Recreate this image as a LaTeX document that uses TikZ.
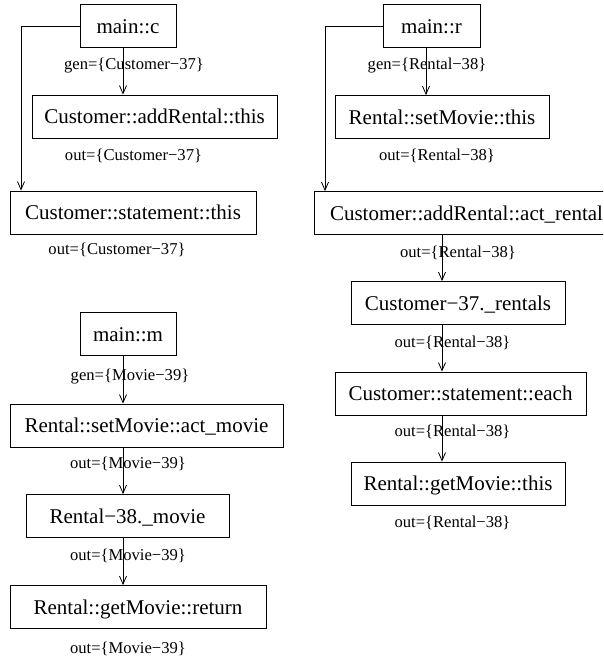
\documentclass[tikz,border=0pt]{standalone}
\usepackage{fontspec}
\setmainfont{Liberation Serif}
\usetikzlibrary{arrows.meta}
\begin{document}
\begin{tikzpicture}[x=1pt,y=-1pt,
  box/.style={draw, line width=0.8pt, inner sep=0pt, minimum height=43pt, text height=14pt, text depth=0pt, font=\fontsize{21}{25}\selectfont},
  lbl/.style={anchor=base, inner sep=0pt, font=\fontsize{16.6}{20}\selectfont},
  arr/.style={draw, line width=0.8pt, -{Straight Barb[length=8pt,width=7pt]}}]
\useasboundingbox (0,0) rectangle (603,656);
\clip (0,0) rectangle (603,656);
% column coordinates
\coordinate (colL) at (123,0);
\coordinate (colR) at (426,0);
\coordinate (colR2) at (442,0);
\coordinate (sideL) at (21,0);
\coordinate (sideR) at (325,0);
% top left group
\node[box, minimum width=96pt] (mc) at (128,26) {main::c};
\node[box, minimum width=245pt] (car) at (154.5,116.5) {Customer::addRental::this};
\node[box, minimum width=246pt] (cst) at (133,212.5) {Customer::statement::this};
\node[lbl] (gc) at (134,69.5) {gen=\{Customer−37\}};
\node[lbl] (oc1) at (133.5,160.5) {out=\{Customer−37\}};
\node[lbl] (oc2) at (117,254.5) {out=\{Customer−37\}};
\draw[arr] (mc.south -| colL) -- (car.north -| colL);
\draw[arr] (mc.west) -| (cst.north -| sideL);
% right group
\node[box, minimum width=97pt] (mr) at (431.5,26) {main::r};
\node[box, minimum width=214pt] (rsm) at (442,117) {Rental::setMovie::this};
\node[box, minimum width=305pt] (cara) at (466.5,213) {Customer::addRental::act\_rental};
\node[box, minimum width=214pt] (crt) at (458,303) {Customer−37.\_rentals};
\node[box, minimum width=251pt] (cse) at (460.5,393.5) {Customer::statement::each};
\node[box, minimum width=214pt] (rgt) at (458,483.5) {Rental::getMovie::this};
\node[lbl] (gr) at (427,69.5) {gen=\{Rental−38\}};
\node[lbl] (or1) at (437,160.5) {out=\{Rental−38\}};
\node[lbl] (or2) at (458,257.5) {out=\{Rental−38\}};
\node[lbl] (or3) at (452.5,347.5) {out=\{Rental−38\}};
\node[lbl] (or4) at (452.5,436.5) {out=\{Rental−38\}};
\node[lbl] (or5) at (452.5,527.5) {out=\{Rental−38\}};
\draw[arr] (mr.south -| colR) -- (rsm.north -| colR);
\draw[arr] (mr.west) -| (cara.north -| sideR);
\draw[arr] (cara.south -| colR2) -- (crt.north -| colR2);
\draw[arr] (crt.south -| colR2) -- (cse.north -| colR2);
\draw[arr] (cse.south -| colR2) -- (rgt.north -| colR2);
% bottom left group
\node[box, minimum width=96pt] (mm) at (128,334) {main::m};
\node[box, minimum width=273pt] (rsa) at (146.5,425.5) {Rental::setMovie::act\_movie};
\node[box, minimum width=203pt] (rmv) at (127.5,516) {Rental−38.\_movie};
\node[box, minimum width=256pt] (rgr) at (138,607) {Rental::getMovie::return};
\node[lbl] (gm) at (130,380.5) {gen=\{Movie−39\}};
\node[lbl] (om1) at (128,468.5) {out=\{Movie−39\}};
\node[lbl] (om2) at (128,560.5) {out=\{Movie−39\}};
\node[lbl] (om3) at (128,653) {out=\{Movie−39\}};
\draw[arr] (mm.south -| colL) -- (rsa.north -| colL);
\draw[arr] (rsa.south -| colL) -- (rmv.north -| colL);
\draw[arr] (rmv.south -| colL) -- (rgr.north -| colL);
\end{tikzpicture}
\end{document}
